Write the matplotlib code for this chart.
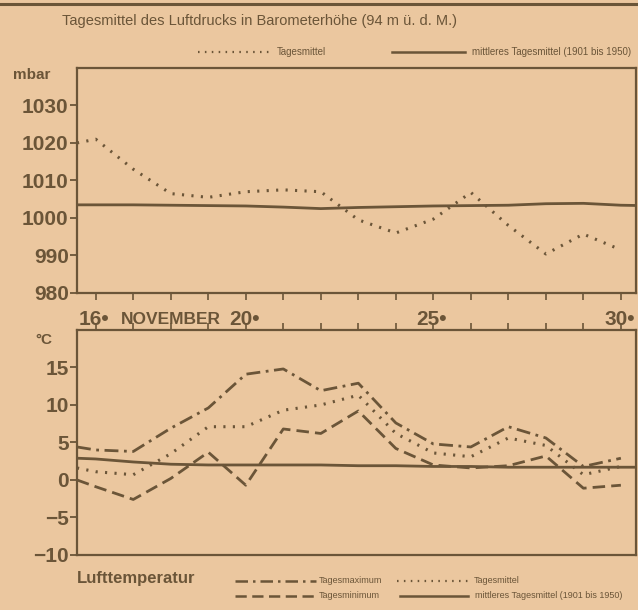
import matplotlib
matplotlib.use("Agg")
import matplotlib.pyplot as plt
from matplotlib.lines import Line2D

# daily values, November (15.5 = left edge of the chart)
days = [15.5, 16, 17, 18, 19, 20, 21, 22, 23, 24, 25, 26, 27, 28, 29, 30]
norm_days = days + [30.6]

pressure = [1020, 1021, 1013, 1006.5, 1005.5, 1007, 1007.5, 1007, 999.5,
            996, 999.7, 1006.8, 998, 990.4, 995.7, 991.5]
pressure_norm = [1003.5, 1003.5, 1003.5, 1003.4, 1003.3, 1003.2, 1002.9, 1002.5,
                 1002.8, 1003.0, 1003.2, 1003.3, 1003.4, 1003.8, 1003.9, 1003.4, 1003.3]

t_max = [4.4, 4.0, 3.8, 6.9, 9.6, 14.1, 14.8, 11.9, 12.9, 7.6, 4.8, 4.4, 7.1, 5.6, 1.8, 2.9]
t_mean = [1.6, 1.1, 0.7, 3.5, 7.1, 7.1, 9.3, 10.0, 11.3, 6.2, 3.6, 3.1, 5.6, 4.6, 0.7, 1.8]
t_min = [0.0, -0.9, -2.6, 0.2, 3.7, -0.7, 6.8, 6.2, 9.2, 4.2, 2.0, 1.6, 1.9, 3.2, -1.1, -0.7]
t_norm = [2.9, 2.8, 2.4, 2.1, 2.0, 2.0, 2.0, 2.0, 1.9, 1.9, 1.8, 1.8, 1.7, 1.7, 1.7, 1.7, 1.7]

p_ticks = [980, 990, 1000, 1010, 1020, 1030]
t_ticks = [-10, -5, 0, 5, 10, 15]
day_labels = {16: "16•", 20: "20•", 25: "25•", 30: "30•"}

BG = "#ebc79f"
INK = "#6b5538"
DOTTED = (0, (0.7, 2.4))
DASHED = (0, (4.5, 2.2))
DASHDOT = (0, (5, 2, 1, 2))

plt.rcParams["font.family"] = ["Liberation Sans", "DejaVu Sans"]
plt.rcParams["text.color"] = INK

fig = plt.figure(figsize=(6.38, 6.10), dpi=100, facecolor=BG)
ax_p = fig.add_axes([0.1207, 0.5197, 0.876, 0.3689], facecolor=BG)
ax_t = fig.add_axes([0.1207, 0.0902, 0.876, 0.3689], facecolor=BG)

ax_p.plot(days, pressure, color=INK, lw=2.2, ls=DOTTED)
ax_p.plot(norm_days, pressure_norm, color=INK, lw=2.0)
ax_p.set_ylim(980, 1040)
ax_p.set_yticks(p_ticks)

ax_t.plot(days, t_max, color=INK, lw=2.0, ls=DASHDOT)
ax_t.plot(days, t_mean, color=INK, lw=2.2, ls=DOTTED)
ax_t.plot(days, t_min, color=INK, lw=2.0, ls=DASHED)
ax_t.plot(norm_days, t_norm, color=INK, lw=2.0)
ax_t.set_ylim(-10, 20)
ax_t.set_yticks(t_ticks)

for ax in (ax_p, ax_t):
    ax.set_xlim(15.5, 30.4)
    ax.set_xticks(range(16, 31))
    for s in ax.spines.values():
        s.set_color(INK)
        s.set_linewidth(1.6)
    ax.tick_params(axis="y", direction="out", length=5, width=1.3, color=INK,
                   labelcolor=INK, labelsize=15, pad=1)
    for lab in ax.get_yticklabels():
        lab.set_fontweight("bold")
ax_p.tick_params(axis="x", direction="out", length=5, width=1.2, color=INK,
                 labelbottom=False)
ax_t.tick_params(axis="x", direction="out", length=5, width=1.2, color=INK,
                 bottom=False, labelbottom=False, top=True)

# day labels between the panels
for d, txt in day_labels.items():
    ax_p.text(d - 0.45, -0.12, txt, transform=ax_p.get_xaxis_transform(),
              ha="left", va="center", fontsize=15, color=INK, fontweight="bold")
ax_p.text(18.0, -0.12, "NOVEMBER", transform=ax_p.get_xaxis_transform(),
          ha="center", va="center", fontsize=12.5, color=INK, fontweight="bold")

fig.text(0.020, 0.877, "mbar", fontsize=11, fontweight="bold", va="center")
fig.text(0.055, 0.443, "°C", fontsize=11, fontweight="bold", va="center")

fig.add_artist(Line2D([0, 1], [0.993, 0.993], color=INK, lw=2.2))
fig.text(0.097, 0.966, "Tagesmittel des Luftdrucks in Barometerhöhe (94 m ü. d. M.)",
         fontsize=10.5, va="center", ha="left")

# pressure legend
fig.add_artist(Line2D([0.310, 0.426], [0.915, 0.915], color=INK, lw=1.6, ls=DOTTED))
fig.text(0.434, 0.915, "Tagesmittel", fontsize=7, va="center")
fig.add_artist(Line2D([0.614, 0.729], [0.915, 0.915], color=INK, lw=1.8))
fig.text(0.740, 0.915, "mittleres Tagesmittel (1901 bis 1950)", fontsize=7, va="center")

# temperature legend
fig.text(0.121, 0.052, "Lufttemperatur", fontsize=12, fontweight="bold", va="center")
fig.add_artist(Line2D([0.368, 0.495], [0.048, 0.048], color=INK, lw=1.8, ls=DASHDOT))
fig.text(0.499, 0.048, "Tagesmaximum", fontsize=6.5, va="center")
fig.add_artist(Line2D([0.622, 0.738], [0.048, 0.048], color=INK, lw=1.6, ls=DOTTED))
fig.text(0.742, 0.048, "Tagesmittel", fontsize=6.5, va="center")
fig.add_artist(Line2D([0.368, 0.495], [0.023, 0.023], color=INK, lw=1.8, ls=DASHED))
fig.text(0.499, 0.023, "Tagesminimum", fontsize=6.5, va="center")
fig.add_artist(Line2D([0.627, 0.734], [0.023, 0.023], color=INK, lw=1.8))
fig.text(0.745, 0.023, "mittleres Tagesmittel (1901 bis 1950)", fontsize=6.5, va="center")

fig.savefig("out.png", dpi=100, facecolor=BG)
